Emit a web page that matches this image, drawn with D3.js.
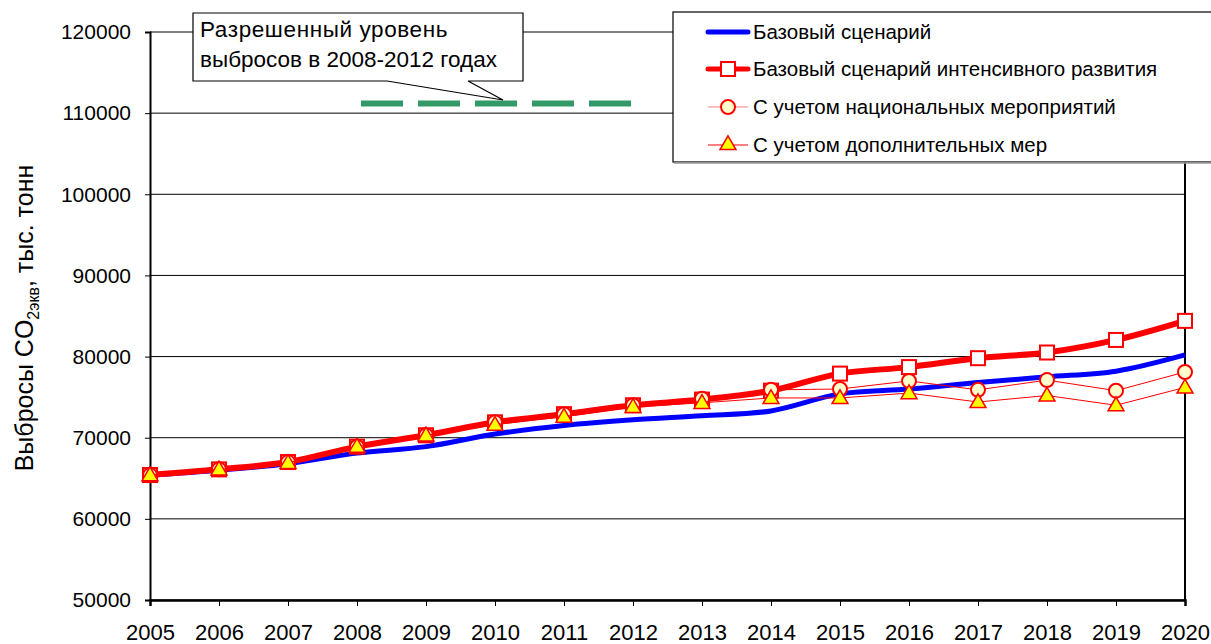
<!DOCTYPE html>
<html>
<head>
<meta charset="utf-8">
<script src="https://cdn.jsdelivr.net/npm/d3@7"></script>
<style>
  body { margin: 0; background: #fff; }
  text { font-family: "Liberation Sans", Arial, sans-serif; fill: #000; }
</style>
</head>
<body>
<div id="chart"></div>
<script>
// data
var years = [2005, 2006, 2007, 2008, 2009, 2010, 2011, 2012, 2013, 2014, 2015, 2016, 2017, 2018, 2019, 2020];
var base = [65400, 66000, 66800, 68100, 68900, 70450, 71500, 72200, 72700, 73300, 75400, 76000, 76800, 77500, 78200, 80200];
var intensive = [65400, 66100, 67000, 68900, 70300, 71900, 72900, 74000, 74700, 75800, 77900, 78700, 79800, 80500, 82050, 84400];
var national = [65400, 66100, 67000, 68900, 70300, 71900, 72900, 74000, 74800, 75900, 76000, 77000, 75900, 77100, 75800, 78100];
var additional = [65400, 66100, 66900, 68900, 70300, 71600, 72600, 73800, 74300, 74900, 74900, 75500, 74400, 75200, 74000, 76200];
var allowedYears = [2008, 2012];
var allowedLevel = 111200;
var yTicks = [50000, 60000, 70000, 80000, 90000, 100000, 110000, 120000];
var legendLabels = ["Базовый сценарий", "Базовый сценарий интенсивного развития",
    "С учетом национальных мероприятий", "С учетом дополнительных мер"];
var calloutLines = ["Разрешенный уровень", "выбросов в 2008-2012 годах"];

var svgWidth = 1211;
var svgHeight = 644;

var svg = d3.select("#chart")
    .append("svg")
    .attr("width", svgWidth)
    .attr("height", svgHeight);

var xScale = d3.scaleLinear().domain([2005, 2020]).range([150, 1185]);
var yScale = d3.scaleLinear().domain([50000, 120000]).range([600, 32]);

// gridlines
svg.append("g")
    .selectAll("line")
    .data(yTicks)
    .enter()
    .append("line")
    .attr("x1", 150)
    .attr("x2", 1185)
    .attr("y1", d => yScale(d))
    .attr("y2", d => yScale(d))
    .attr("stroke", "#000")
    .attr("stroke-width", 1);

// right border
svg.append("line")
    .attr("x1", 1185).attr("x2", 1185)
    .attr("y1", 32).attr("y2", 600)
    .attr("stroke", "#000").attr("stroke-width", 2);

// axes
var yAxis = d3.axisLeft(yScale).tickValues(yTicks).tickSize(5).tickPadding(14).tickFormat(d3.format("d"));
var yG = svg.append("g").attr("transform", "translate(150,0)").call(yAxis);
yG.select(".domain").attr("stroke-width", 2);
yG.selectAll("text").attr("font-size", "21px").attr("font-family", "Liberation Sans, Arial, sans-serif");

var xAxis = d3.axisBottom(xScale).tickValues(years).tickSize(6).tickPadding(18).tickFormat(d3.format("d"));
var xG = svg.append("g").attr("transform", "translate(0,600)").call(xAxis);
xG.select(".domain").attr("stroke-width", 2.5);
xG.selectAll("text").attr("font-size", "22px").attr("font-family", "Liberation Sans, Arial, sans-serif");

// y axis title
var yTitle = svg.append("text")
    .attr("transform", "translate(33,318) rotate(-90)")
    .attr("text-anchor", "middle")
    .attr("font-size", "25px");
yTitle.append("tspan").text("Выбросы CO");
yTitle.append("tspan").attr("font-size", "16px").attr("dy", 6).text("2экв");
yTitle.append("tspan").attr("dy", -6).text(", тыс. тонн");

// allowed level (green dashes)
svg.append("line")
    .attr("x1", xScale(allowedYears[0]) + 4)
    .attr("x2", xScale(allowedYears[1]))
    .attr("y1", yScale(allowedLevel))
    .attr("y2", yScale(allowedLevel))
    .attr("stroke", "#339966")
    .attr("stroke-width", 6)
    .attr("stroke-dasharray", "42,15");

var pts = vals => vals.map((v, i) => [xScale(years[i]), yScale(v)]);

var smooth = d3.line().curve(d3.curveCatmullRom.alpha(0.5));
var straight = d3.line();

// series lines
svg.append("path").attr("d", smooth(pts(base)))
    .attr("fill", "none").attr("stroke", "#0000ff").attr("stroke-width", 5);
svg.append("path").attr("d", smooth(pts(intensive)))
    .attr("fill", "none").attr("stroke", "#ff0000").attr("stroke-width", 6);

svg.append("g").selectAll("rect")
    .data(pts(intensive))
    .enter()
    .append("rect")
    .attr("x", d => d[0] - 7)
    .attr("y", d => d[1] - 7)
    .attr("width", 14)
    .attr("height", 14)
    .attr("fill", "#fff")
    .attr("stroke", "#ff0000")
    .attr("stroke-width", 2);

svg.append("path").attr("d", straight(pts(national)))
    .attr("fill", "none").attr("stroke", "#ff0000").attr("stroke-width", 1);
svg.append("g").selectAll("circle")
    .data(pts(national))
    .enter()
    .append("circle")
    .attr("cx", d => d[0])
    .attr("cy", d => d[1])
    .attr("r", 7)
    .attr("fill", "#ffffcc")
    .attr("stroke", "#ff0000")
    .attr("stroke-width", 2);

var tri = d3.symbol().type(d3.symbolTriangle).size(110);
svg.append("path").attr("d", straight(pts(additional)))
    .attr("fill", "none").attr("stroke", "#ff0000").attr("stroke-width", 1);
svg.append("g").selectAll("path")
    .data(pts(additional))
    .enter()
    .append("path")
    .attr("d", tri)
    .attr("transform", d => `translate(${d[0]},${d[1] + 1})`)
    .attr("fill", "#ffff00")
    .attr("stroke", "#ff0000")
    .attr("stroke-width", 1.5);

// callout
var callout = svg.append("g");
callout.append("path")
    .attr("d", "M193,13 H523 V81 H468 L503,100 L387,81 H193 Z")
    .attr("fill", "#fff")
    .attr("stroke", "#000")
    .attr("stroke-width", 1.2);
callout.selectAll("text")
    .data(calloutLines)
    .enter()
    .append("text")
    .attr("x", 200)
    .attr("y", (d, i) => 37 + i * 30)
    .attr("font-size", "22.5px")
    .attr("letter-spacing", (d, i) => i === 0 ? "0.6px" : "0px")
    .text(d => d);

// legend
var legend = svg.append("g");
legend.append("rect")
    .attr("x", 673).attr("y", 12)
    .attr("width", 560).attr("height", 150)
    .attr("fill", "#fff")
    .attr("stroke", "#000")
    .attr("stroke-width", 1.2);
legend.append("line")
    .attr("x1", 674).attr("x2", 1211).attr("y1", 163).attr("y2", 163)
    .attr("stroke", "#999").attr("stroke-width", 1.5);

var rowY = [32, 69, 107, 145];
legend.append("line")
    .attr("x1", 708).attr("x2", 748).attr("y1", rowY[0]).attr("y2", rowY[0])
    .attr("stroke", "#0000ff").attr("stroke-width", 5).attr("stroke-linecap", "round");
legend.append("line")
    .attr("x1", 708).attr("x2", 748).attr("y1", rowY[1]).attr("y2", rowY[1])
    .attr("stroke", "#ff0000").attr("stroke-width", 5).attr("stroke-linecap", "round");
legend.append("rect")
    .attr("x", 721).attr("y", rowY[1] - 7).attr("width", 14).attr("height", 14)
    .attr("fill", "#fff").attr("stroke", "#ff0000").attr("stroke-width", 2);
legend.append("line")
    .attr("x1", 708).attr("x2", 748).attr("y1", rowY[2]).attr("y2", rowY[2])
    .attr("stroke", "#ff8080").attr("stroke-width", 1.2);
legend.append("circle")
    .attr("cx", 728).attr("cy", rowY[2]).attr("r", 7)
    .attr("fill", "#ffffcc").attr("stroke", "#ff0000").attr("stroke-width", 2);
legend.append("line")
    .attr("x1", 708).attr("x2", 748).attr("y1", rowY[3]).attr("y2", rowY[3])
    .attr("stroke", "#ff0000").attr("stroke-width", 1.2);
legend.append("path")
    .attr("d", tri)
    .attr("transform", `translate(728,${rowY[3]})`)
    .attr("fill", "#ffff00").attr("stroke", "#ff0000").attr("stroke-width", 1.5);

legend.selectAll("text.lg")
    .data(legendLabels)
    .enter()
    .append("text")
    .attr("class", "lg")
    .attr("x", 753)
    .attr("y", (d, i) => rowY[i] + 7)
    .attr("font-size", "20.5px")
    .text(d => d);
</script>
</body>
</html>
